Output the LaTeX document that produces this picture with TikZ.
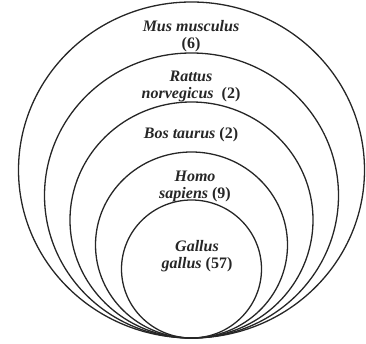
\documentclass[tikz,border=0pt]{standalone}
\usepackage{fontspec}
\setmainfont{Liberation Serif}
\usetikzlibrary{positioning}

\begin{document}
\begin{tikzpicture}[x=1pt,y=1pt,
  ring/.style={draw=black!85,line width=1.3pt},
  species/.style={align=center,inner sep=0pt,text=black!85,
    font=\fontsize{16}{17}\selectfont\bfseries}]
\useasboundingbox (0,0) rectangle (366,344);
% nested rings, all touching at the bottom
\foreach \cy/\rx/\ry in {174/173/168, 148.5/147/142.5, 124/121.5/118, 99/96/93, 75/70/69}
  \draw [ring] (191.5,\cy) ellipse [x radius=\rx, y radius=\ry];
\node [species] (mus) at (191,307.5) {\textit{Mus musculus}\\(6)};
\node [species] (rattus) at (191,257.5) {\textit{Rattus}\\\textit{norvegicus}\ \ (2)};
\node [species] (bos) at (191,209) {\textit{Bos taurus} (2)};
\node [species] (homo) at (195,157.5) {\textit{Homo}\\\textit{sapiens} (9)};
\node [species] (gallus) at (197,88) {\textit{Gallus}\\\textit{gallus} (57)};
\end{tikzpicture}
\end{document}
